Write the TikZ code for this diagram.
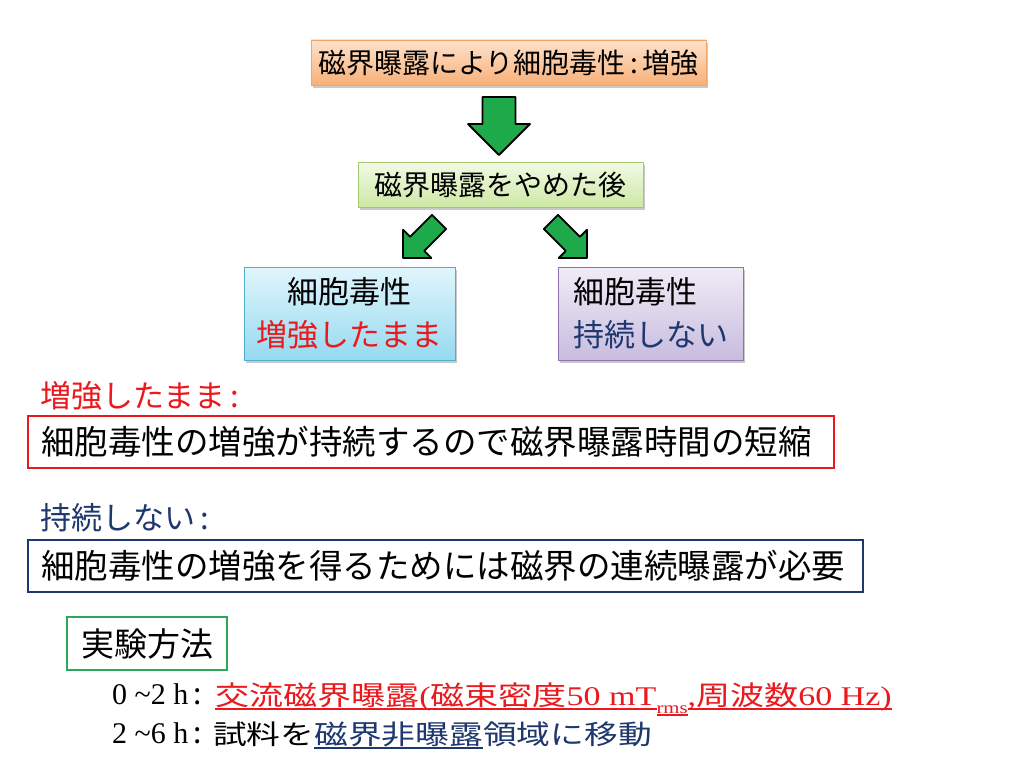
\documentclass[tikz,border=0pt]{standalone}
\usepackage{fontspec}
\setmainfont{Liberation Serif}
\newfontfamily\jp{Noto Sans CJK JP}
\usetikzlibrary{shadows}
\definecolor{or1}{RGB}{253,226,204}
\definecolor{or2}{RGB}{248,176,120}
\definecolor{orline}{RGB}{240,165,105}
\definecolor{gr1}{RGB}{242,250,230}
\definecolor{gr2}{RGB}{205,232,165}
\definecolor{grline}{RGB}{165,200,110}
\definecolor{bl1}{RGB}{225,245,252}
\definecolor{bl2}{RGB}{150,218,240}
\definecolor{blline}{RGB}{80,175,205}
\definecolor{pu1}{RGB}{240,236,246}
\definecolor{pu2}{RGB}{200,188,222}
\definecolor{puline}{RGB}{140,115,175}
\definecolor{agreen}{RGB}{30,170,75}
\definecolor{methgreen}{RGB}{40,170,90}
\definecolor{myred}{RGB}{235,25,30}
\definecolor{mynavy}{RGB}{30,55,110}
\newcommand\ulx[3]{\setbox0=\hbox{#3}\rlap{\color{#1}\rule[-#2]{\wd0}{1.8pt}}\box0}
\newcommand\blockarrow[6]{%
  \begin{scope}[shift={(#1,#2)},rotate=#3]
    \draw[greenarrow] (0,0) -- (-#6,#6) -- (-#6,#5) -- (-#4,#5) -- (-#4,-#5) -- (-#6,-#5) -- (-#6,-#6) -- cycle;
  \end{scope}}
\begin{document}
\begin{tikzpicture}[x=1pt,y=-1pt,
  flowbox/.style={draw, line width=0.8pt, inner sep=0pt, align=center,
    font=\jp\fontsize{28pt}{34pt}\selectfont,
    drop shadow={shadow xshift=2pt, shadow yshift=-3pt, opacity=0.35, fill=black!60}},
  greenarrow/.style={draw=black, line width=1.8pt, fill=agreen, line join=round},
  framebox/.style={draw, line width=2pt, anchor=west, inner xsep=13pt, inner ysep=0pt,
    minimum height=52pt, align=left, font=\jp\fontsize{33.5pt}{40pt}\selectfont},
  lbl/.style={anchor=west, inner sep=0pt, font=\jp\fontsize{31pt}{36pt}\selectfont},
  textline/.style={anchor=base west, inner sep=0pt}]
\fill[white] (0,0) rectangle (1024,768);
\useasboundingbox (0,0) rectangle (1024,768);

\node[flowbox, draw=orline, top color=or1, bottom color=or2,
  minimum width=395pt, minimum height=45pt] (n1) at (508.5,62.5) {磁界曝露により細胞毒性\,:\,増強};
\node[flowbox, draw=grline, top color=gr1, bottom color=gr2,
  minimum width=285pt, minimum height=45pt] (n2) at (500.5,184.5) {磁界曝露をやめた後};
\node[flowbox, draw=blline, top color=bl1, bottom color=bl2,
  minimum width=211pt, minimum height=93pt,
  font=\jp\fontsize{31pt}{43pt}\selectfont] (n3) at (349.5,313.5)
  {細胞毒性\\\textcolor{myred}{増強したまま}};
\node[flowbox, draw=puline, top color=pu1, bottom color=pu2,
  minimum width=185pt, minimum height=93pt, align=left,
  font=\jp\fontsize{31pt}{43pt}\selectfont] (n4) at (650.5,313.5)
  {細胞毒性\\\textcolor{mynavy}{持続しない}};

\blockarrow{499}{155}{-90}{58}{16.5}{31}
\blockarrow{403}{258}{-135}{51}{10}{20}
\blockarrow{587}{258}{-45}{51}{10}{20}

\node[lbl, text=myred] (lab1) at (40,396) {増強したまま\,:};
\node[framebox, draw=myred, text width=780pt] (box1) at (27,442)
  {細胞毒性の増強が持続するので磁界曝露時間の短縮};
\node[lbl, text=mynavy] (lab2) at (40,518) {持続しない\,:};
\node[framebox, draw=mynavy, text width=809pt] (box2) at (27,566)
  {細胞毒性の増強を得るためには磁界の連続曝露が必要};

\node[draw=methgreen, line width=2pt, minimum width=160pt, minimum height=53pt,
  inner sep=0pt, font=\jp\fontsize{33pt}{36pt}\selectfont] (meth) at (147,643.5) {実験方法};

\node[textline] (t1) at (112,704) {\fontsize{30pt}{32pt}\selectfont 0 \textasciitilde2 h{\jp\,:}};
\node[textline] (line1) at (215,705) {\scalebox{1.26}[1]{\fontsize{27pt}{30pt}\selectfont
  \ulx{myred}{5pt}{\color{myred}{\jp 交流磁界曝露}({\jp 磁束密度}50 mT}%
  \raisebox{-8pt}{\ulx{myred}{2.5pt}{\color{myred}\fontsize{16.5pt}{16pt}\selectfont rms}}%
  \ulx{myred}{5pt}{\color{myred},{\jp 周波数}60 Hz)}}};
\node[textline] (t2) at (112,743) {\fontsize{30pt}{32pt}\selectfont 2 \textasciitilde6 h{\jp\,:}};
\node[textline] (line2) at (213,744) {\scalebox{1.25}[1]{\fontsize{27pt}{30pt}\selectfont
  {\jp 試料を}\ulx{mynavy}{5pt}{\color{mynavy}\jp 磁界非曝露}{\jp 領域に移動}}};
\end{tikzpicture}
\end{document}
